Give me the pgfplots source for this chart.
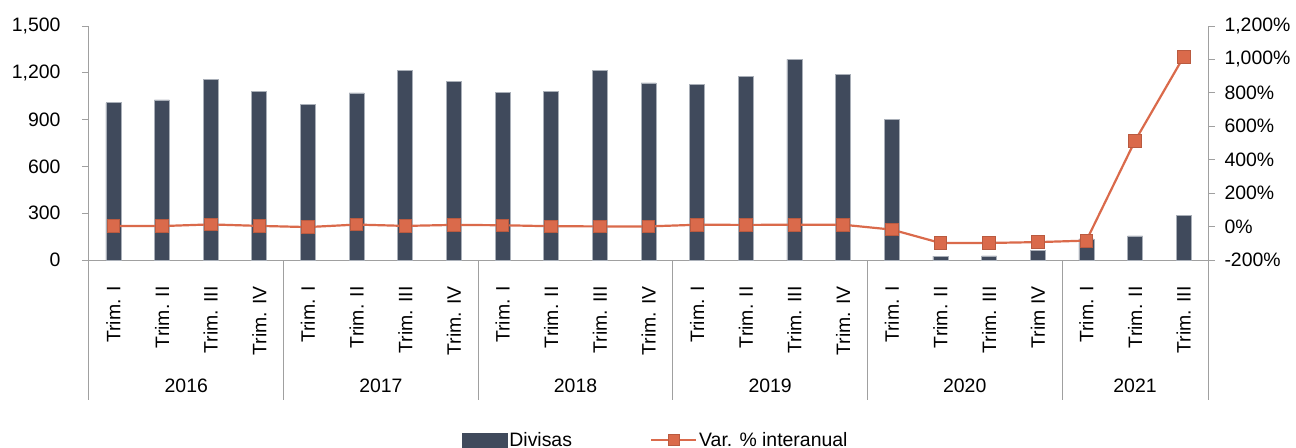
\documentclass[border=0pt]{standalone}
\usepackage{pgfplots}
\pgfplotsset{compat=1.18}
\usepackage{fontspec}
\setmainfont{Liberation Sans}
\definecolor{barcol}{HTML}{404A5C}
\definecolor{baredge}{HTML}{A9AFB8}
\definecolor{linecol}{HTML}{DA6A4B}
\definecolor{axgray}{HTML}{A0A0A0}
\newcommand{\fs}{\fontsize{19.5}{23}\selectfont}
\pgfplotsset{
  lineleg/.style={legend image code/.code={\draw[##1, mark size=5.5bp, mark repeat=2, mark phase=2] plot coordinates {(0bp,0bp) (22.5bp,0bp) (45bp,0bp)};}},
  barleg/.style={legend image code/.code={\fill[barcol] (0bp,-7bp) rectangle (45bp,7bp);}},
}
\begin{document}
\begin{tikzpicture}
\pgfplotsset{
  base/.style={
    scale only axis, width=1119bp, height=234bp,
    at={(0,0)}, anchor=south west,
    xmin=-0.5, xmax=22.5,
    clip=false,
    axis line style={draw=axgray, line width=1bp, -},
    tick style={draw=axgray, line width=1bp},
    tick align=outside,
    major tick length=7bp,
    ticklabel style={font=\fs},
    /pgf/number format/assume math mode=true,
    /pgf/number format/1000 sep={,},
  }
}
\begin{axis}[base,
  ybar, bar width=15bp,
  ymin=0, ymax=1500, ytick={0,300,...,1500},
  axis x line*=bottom, axis y line*=left,
  xtick={0,...,22},
  xticklabels={Trim. I,Trim. II,Trim. III,Trim. IV,Trim. I,Trim. II,Trim. III,Trim. IV,Trim. I,Trim. II,Trim. III,Trim. IV,Trim. I,Trim. II,Trim. III,Trim. IV,Trim. I,Trim. II,Trim. III,Trim IV,Trim. I,Trim. II,Trim. III},
  x tick style={draw=none},
  xticklabel style={rotate=90, anchor=east},
  xticklabel shift=16bp,
  yticklabel style={xshift=-18bp},
]
\addplot[fill=barcol, draw=baredge, line width=0.6bp] coordinates {
(0,1008) (1,1026) (2,1160) (3,1081)
(4,1000) (5,1071) (6,1213) (7,1143)
(8,1073) (9,1081) (10,1216) (11,1135)
(12,1126) (13,1179) (14,1286) (15,1190)
(16,902) (17,25) (18,26) (19,64)
(20,135) (21,154) (22,288)
};
\draw[axgray, line width=1bp] (axis cs:-0.5,0) -- ([yshift=-140bp]axis cs:-0.5,0);
\draw[axgray, line width=1bp] (axis cs:3.5,0) -- ([yshift=-140bp]axis cs:3.5,0);
\draw[axgray, line width=1bp] (axis cs:7.5,0) -- ([yshift=-140bp]axis cs:7.5,0);
\draw[axgray, line width=1bp] (axis cs:11.5,0) -- ([yshift=-140bp]axis cs:11.5,0);
\draw[axgray, line width=1bp] (axis cs:15.5,0) -- ([yshift=-140bp]axis cs:15.5,0);
\draw[axgray, line width=1bp] (axis cs:19.5,0) -- ([yshift=-140bp]axis cs:19.5,0);
\draw[axgray, line width=1bp] (axis cs:22.5,0) -- ([yshift=-140bp]axis cs:22.5,0);
\node[font=\fs] at (axis cs:1.5,0) [yshift=-126bp] {2016};
\node[font=\fs] at (axis cs:5.5,0) [yshift=-126bp] {2017};
\node[font=\fs] at (axis cs:9.5,0) [yshift=-126bp] {2018};
\node[font=\fs] at (axis cs:13.5,0) [yshift=-126bp] {2019};
\node[font=\fs] at (axis cs:17.5,0) [yshift=-126bp] {2020};
\node[font=\fs] at (axis cs:21,0) [yshift=-126bp] {2021};
\end{axis}
\begin{axis}[base,
  ymin=-200, ymax=1200, ytick={-200,0,...,1200},
  axis x line=none, axis y line*=right,
  yticklabel={\pgfmathprintnumber{\tick}\%},
  yticklabel style={xshift=6bp},
  legend columns=2,
  legend style={draw=none, fill=none, font=\fs,
    at={(rel axis cs:0.3305,-0.769)}, anchor=west,
    /tikz/every even column/.append style={column sep=76bp}},
]
\addlegendimage{barleg}
\addlegendentry{Divisas}
\addplot[color=linecol, line width=2.2bp, mark=square*, mark size=6.3bp,
  mark options={fill=linecol, draw=linecol!85!black, line width=0.8bp},
  lineleg] coordinates {
(0,3) (1,3) (2,13) (3,4)
(4,-3) (5,12) (6,4) (7,10)
(8,8) (9,2) (10,1) (11,1)
(12,11) (13,10) (14,11) (15,11)
(16,-18) (17,-98) (18,-98) (19,-93)
(20,-84) (21,513) (22,1016)
};
\addlegendentry{Var. \% interanual}
\end{axis}
\pgfresetboundingbox
\path (-89bp,-188bp) rectangle (1207bp,260bp);
\end{tikzpicture}
\end{document}
